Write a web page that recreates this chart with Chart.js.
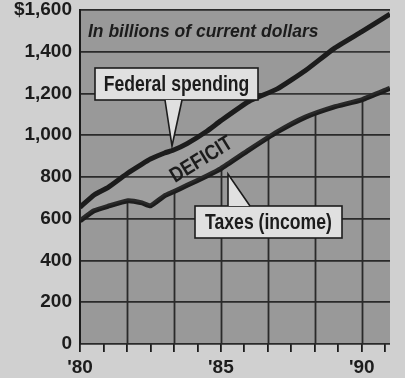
<!DOCTYPE html>
<html>
<head>
<meta charset="utf-8">
<script src="https://cdn.jsdelivr.net/npm/chart.js@4.4.1/dist/chart.umd.min.js"></script>
<style>
  html, body { margin: 0; padding: 0; background: #cfcfcf; }
  #wrap { width: 405px; height: 378px; }
</style>
</head>
<body>
<div id="wrap"><canvas id="c" width="405" height="378"></canvas></div>
<script>
// data (billions of current dollars)
const years    = [1980, 1980.5, 1981, 1981.7, 1982.2, 1982.5, 1983, 1983.3, 1983.8, 1984.5, 1985, 1986, 1987, 1988, 1989, 1990, 1991];
const spending = [655, 714, 750, 819, 862, 886, 915, 928, 960, 1019, 1070, 1163, 1222, 1310, 1414, 1496, 1580];
const taxes    = [590, 638, 660, 686, 676, 662, 710, 728, 760, 805, 840, 930, 1016, 1087, 1135, 1170, 1225];

const xLabelYears = [1980, 1985, 1990];
const xLabels     = ["'80", "'85", "'90"];
const tickStep    = 5 / 6;   // small tick marks under the axis
const gridStep    = 5 / 3;   // vertical rules

const PAPER = '#d0d0d0';
const PLOT  = '#999999';
const INK   = '#1c1c1c';
const SANS  = '"Liberation Sans", Arial, sans-serif';

const backdrop = {
  id: 'backdrop',
  beforeDraw(chart) {
    const { ctx, chartArea: a } = chart;
    ctx.save();
    ctx.fillStyle = PAPER;
    ctx.fillRect(0, 0, chart.width, chart.height);
    ctx.fillStyle = PLOT;
    ctx.fillRect(a.left, a.top, a.right - a.left, a.bottom - a.top);
    ctx.restore();
  },
  // vertical rules only show underneath the taxes line
  beforeDatasetsDraw(chart) {
    const { ctx, chartArea: a, scales: { x } } = chart;
    const pts = chart.getDatasetMeta(1).data;
    ctx.save();
    ctx.beginPath();
    ctx.moveTo(pts[0].x, a.bottom);
    pts.forEach(p => ctx.lineTo(p.x, p.y));
    ctx.lineTo(pts[pts.length - 1].x, a.bottom);
    ctx.closePath();
    ctx.clip();
    ctx.strokeStyle = '#2a2a2a';
    ctx.lineWidth = 1.8;
    for (let v = 1980 + gridStep; v <= 1990.01; v += gridStep) {
      const px = Math.round(x.getPixelForValue(v)) + 0.5;
      ctx.beginPath();
      ctx.moveTo(px, a.top);
      ctx.lineTo(px, a.bottom);
      ctx.stroke();
    }
    ctx.restore();
  },
};

// condensed text: normal face squeezed horizontally
function narrowText(ctx, text, x, y, font, squeeze) {
  ctx.save();
  ctx.translate(x, y);
  ctx.scale(squeeze, 1);
  ctx.font = font;
  ctx.textAlign = 'center';
  ctx.textBaseline = 'middle';
  ctx.fillText(text, 0, 0);
  ctx.restore();
}

function callout(ctx, box, tri, text) {
  ctx.fillStyle = '#e0e0e0';
  ctx.strokeStyle = INK;
  ctx.lineWidth = 1.6;
  ctx.fillRect(box.x, box.y, box.w, box.h);
  ctx.strokeRect(box.x, box.y, box.w, box.h);
  ctx.beginPath();
  ctx.moveTo(tri[0][0], tri[0][1]);
  ctx.lineTo(tri[1][0], tri[1][1]);
  ctx.lineTo(tri[2][0], tri[2][1]);
  ctx.closePath();
  ctx.fill();
  ctx.beginPath();
  ctx.moveTo(tri[0][0], tri[0][1]);
  ctx.lineTo(tri[1][0], tri[1][1]);
  ctx.lineTo(tri[2][0], tri[2][1]);
  ctx.stroke();
  ctx.fillStyle = INK;
  narrowText(ctx, text, box.x + box.w / 2, box.y + box.h / 2 + 1, 'bold 22px ' + SANS, 0.8);
}

const notes = {
  id: 'notes',
  afterDatasetsDraw(chart) {
    const { ctx } = chart;
    ctx.save();
    ctx.fillStyle = INK;
    ctx.font = 'italic bold 17.5px ' + SANS;
    ctx.textAlign = 'left';
    ctx.textBaseline = 'middle';
    ctx.fillText('In billions of current dollars', 88, 32);

    callout(ctx, { x: 95, y: 68, w: 163, h: 32 }, [[165, 100], [172, 146], [182, 100]], 'Federal spending');
    callout(ctx, { x: 195, y: 206, w: 147, h: 32 }, [[228, 206], [228, 174], [250, 206]], 'Taxes (income)');

    ctx.translate(201, 159);
    ctx.rotate(-31.5 * Math.PI / 180);
    ctx.fillStyle = INK;
    narrowText(ctx, 'DEFICIT', 0, 1, 'bold 21px ' + SANS, 0.85);
    ctx.restore();
  },
};

new Chart(document.getElementById('c'), {
  type: 'line',
  data: {
    datasets: [
      {
        label: 'Federal spending',
        data: years.map((y, i) => ({ x: y, y: spending[i] })),
        borderColor: INK,
        borderWidth: 5,
        pointRadius: 0,
        tension: 0.15,
        fill: { target: '+1', above: 'rgba(255,255,255,0.06)', below: 'rgba(255,255,255,0.06)' },
      },
      {
        label: 'Taxes (income)',
        data: years.map((y, i) => ({ x: y, y: taxes[i] })),
        borderColor: INK,
        borderWidth: 5,
        pointRadius: 0,
        tension: 0.15,
        fill: false,
      },
    ],
  },
  options: {
    responsive: false,
    animation: false,
    layout: { padding: { left: 0, right: 15, top: 10, bottom: 0 } },
    plugins: { legend: { display: false }, tooltip: { enabled: false } },
    scales: {
      x: {
        type: 'linear',
        min: 1980,
        max: 1991,
        afterBuildTicks(scale) {
          const t = [];
          for (let k = 0; k <= 13; k++) t.push({ value: 1980 + k * tickStep });
          scale.ticks = t;
        },
        afterFit(scale) {
          scale.height = 34;
          scale.paddingLeft = 0;
          scale.paddingRight = 0;
        },
        grid: { drawOnChartArea: false, drawTicks: true, tickLength: 8, color: INK, lineWidth: 1.8 },
        border: { display: false },
        ticks: {
          autoSkip: false,
          maxRotation: 0,
          padding: 4,
          color: INK,
          font: { family: SANS, size: 19, weight: 'bold' },
          callback(v) {
            const i = xLabelYears.findIndex(y => Math.abs(y - v) < 0.01);
            return i < 0 ? '' : xLabels[i];
          },
        },
      },
      y: {
        min: 0,
        max: 1600,
        afterFit(scale) {
          scale.width = 80;
          scale.paddingTop = 0;
          scale.paddingBottom = 0;
        },
        grid: { color: '#2a2a2a', lineWidth: 1.8, drawTicks: false },
        border: { display: true, color: INK, width: 2 },
        ticks: {
          stepSize: 200,
          padding: 8,
          color: INK,
          font: { family: SANS, size: 19, weight: 'bold' },
          callback(v) {
            const s = v.toLocaleString('en-US');
            return v === 1600 ? '$' + s : s;
          },
        },
      },
    },
  },
  plugins: [backdrop, notes],
});
</script>
</body>
</html>
